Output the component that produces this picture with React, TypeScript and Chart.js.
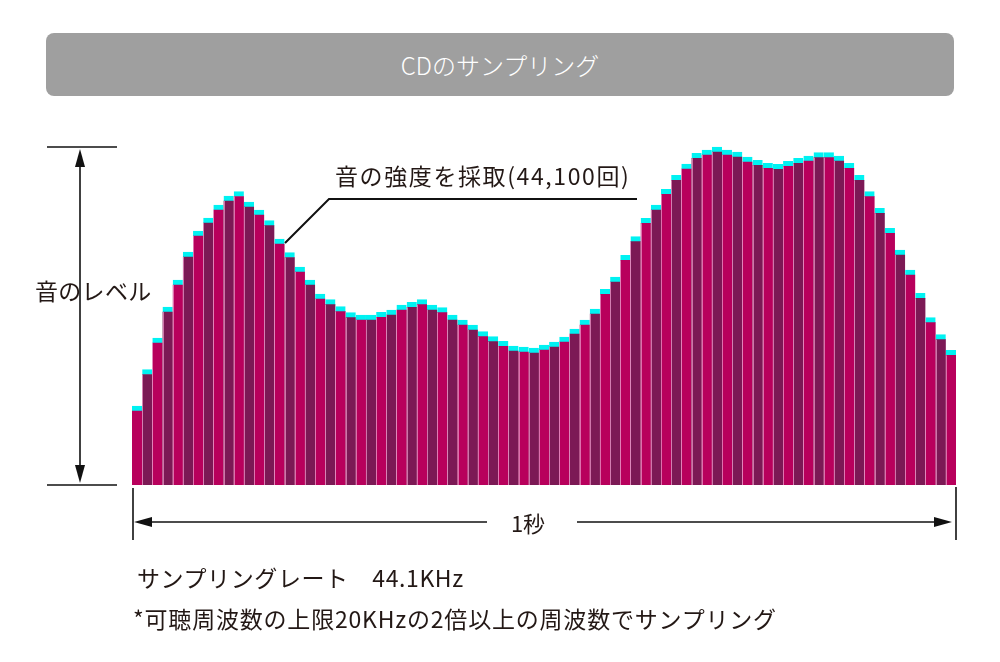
import React, { useEffect, useRef } from "react";
import { Chart, registerables } from "chart.js";

Chart.register(...registerables);

// sample index (81 samples shown across 1 second)
const sampleLabels: string[] = Array.from({ length: 81 }, (_, i) => String(i + 1));

const levels: number[] = [
  79, 115.5, 147, 178, 205, 233, 254, 267, 280, 289,
  293.5, 283, 275, 264.3, 246, 232.5, 218, 205, 191, 185.3,
  178.3, 172.3, 170, 170, 172.7, 175, 180, 182.7, 185.3, 180,
  177.3, 170, 165, 160, 153.3, 148.3, 143.7, 139, 138, 137,
  140, 143, 148, 156, 165, 176, 195.7, 208, 229.7, 248.3,
  266.7, 280, 295.7, 309.7, 321, 331.7, 335, 338, 335, 333,
  328, 324.7, 321.7, 320.7, 323.7, 326.7, 329, 332.3, 332.3, 329,
  321.7, 309.7, 293.3, 276.7, 256.7, 235, 215, 191.7, 167.3, 150.3,
  134.7,
];

const yMax = 350;

const titleText = "CDのサンプリング";
const levelLabel = "音のレベル";
const calloutText = "音の強度を採取(44,100回)";
const timeLabel = "1秒";
const rateText = "サンプリングレート　44.1KHz";
const noteText = "*可聴周波数の上限20KHzの2倍以上の周波数でサンプリング";

const MAGENTA = "#b8005c";
const PURPLE = "#7c1955";
const CYAN = "#00f2f2";
const INK = "#231815";
const FONT = '"Noto Sans CJK JP", "Noto Sans", sans-serif';

const separatorPlugin = {
  id: "separators",
  afterDatasetsDraw(chart: any) {
    const ctx = chart.ctx;
    const meta = chart.getDatasetMeta(0);
    ctx.save();
    ctx.lineWidth = 1;
    meta.data.forEach((bar: any, i: number) => {
      if (i === 0) return;
      const props = bar.getProps(["x", "y", "base", "width"], true);
      const x = Math.round(props.x - props.width / 2) + 0.5;
      ctx.strokeStyle = "rgba(235,150,200,0.75)";
      ctx.beginPath();
      ctx.moveTo(x, props.y + 5);
      ctx.lineTo(x, props.base);
      ctx.stroke();
    });
    ctx.restore();
  },
};

function SamplingChart() {
  const ref = useRef<HTMLCanvasElement | null>(null);
  useEffect(() => {
    if (!ref.current) return;
    const chart = new Chart(ref.current, {
      type: "bar",
      data: {
        labels: sampleLabels,
        datasets: [
          {
            data: levels,
            backgroundColor: levels.map((_, i) => (i % 2 === 0 ? MAGENTA : PURPLE)),
            borderColor: CYAN,
            borderWidth: { top: 5, right: 0, bottom: 0, left: 0 },
            borderSkipped: false,
            barPercentage: 1,
            categoryPercentage: 1,
          },
        ],
      },
      options: {
        animation: false,
        responsive: false,
        maintainAspectRatio: false,
        layout: { padding: { left: 132, right: 44, top: 135, bottom: 177 } },
        plugins: { legend: { display: false }, tooltip: { enabled: false }, title: { display: false } },
        scales: {
          x: { display: false, offset: true, grid: { display: false } },
          y: { display: false, min: 0, max: yMax, grid: { display: false } },
        },
      },
      plugins: [separatorPlugin],
    });
    return () => chart.destroy();
  }, []);
  return <canvas ref={ref} width={1000} height={662} style={{ position: "absolute", left: 0, top: 0, width: 1000, height: 662 }} />;
}

function Text({ text, left, cy, size = 22, color = INK, center = false, weight = 400, spacing = 0 }: any) {
  const style: React.CSSProperties = {
    position: "absolute",
    top: cy - size / 2,
    fontSize: size,
    lineHeight: `${size}px`,
    height: size,
    whiteSpace: "nowrap",
    color,
    fontFamily: FONT,
    fontWeight: weight,
    letterSpacing: spacing,
  };
  if (center) {
    style.left = left - 200;
    style.width = 400;
    style.textAlign = "center";
  } else {
    style.left = left;
  }
  return <div style={style}>{text}</div>;
}

export default function App() {
  return (
    <div style={{ position: "absolute", left: 0, top: 0, width: 1000, height: 662, background: "#fff", overflow: "hidden" }}>
      <div
        style={{
          position: "absolute",
          left: 46,
          top: 33,
          width: 908,
          height: 63,
          background: "#9f9f9f",
          borderRadius: 8,
        }}
      />
      <Text text={titleText} left={500} cy={65} size={24} color="#ffffff" center weight={300} />
      <SamplingChart />
      <svg width={1000} height={662} style={{ position: "absolute", left: 0, top: 0 }}>
        <g stroke="#111" strokeWidth={1.6} fill="none">
          {/* vertical level arrow */}
          <line x1={47} y1={147} x2={117} y2={147} />
          <line x1={47} y1={485} x2={117} y2={485} />
          <line x1={80} y1={160} x2={80} y2={472} />
          {/* callout */}
          <polyline points="285,243 329,199 637,199" strokeWidth={2} />
          {/* 1 second arrow */}
          <line x1={133} y1={488} x2={133} y2={540} />
          <line x1={956} y1={487} x2={956} y2={540} />
          <line x1={145} y1={522} x2={487} y2={522} />
          <line x1={577} y1={522} x2={940} y2={522} />
        </g>
        <g fill="#111" stroke="none">
          <polygon points="80,149 75,167 85,167" />
          <polygon points="80,483 75,465 85,465" />
          <polygon points="134,522 152,517 152,527" />
          <polygon points="952,522 934,517 934,527" />
        </g>
      </svg>
      <Text text={levelLabel} left={35} cy={290} size={23} spacing={0.3} />
      <Text text={calloutText} left={335} cy={175} size={23} spacing={1.6} />
      <Text text={timeLabel} left={528} cy={522} center />
      <Text text={rateText} left={137} cy={577} size={23} spacing={0.6} />
      <Text text={noteText} left={133} cy={618} size={23} spacing={0.8} />
    </div>
  );
}
